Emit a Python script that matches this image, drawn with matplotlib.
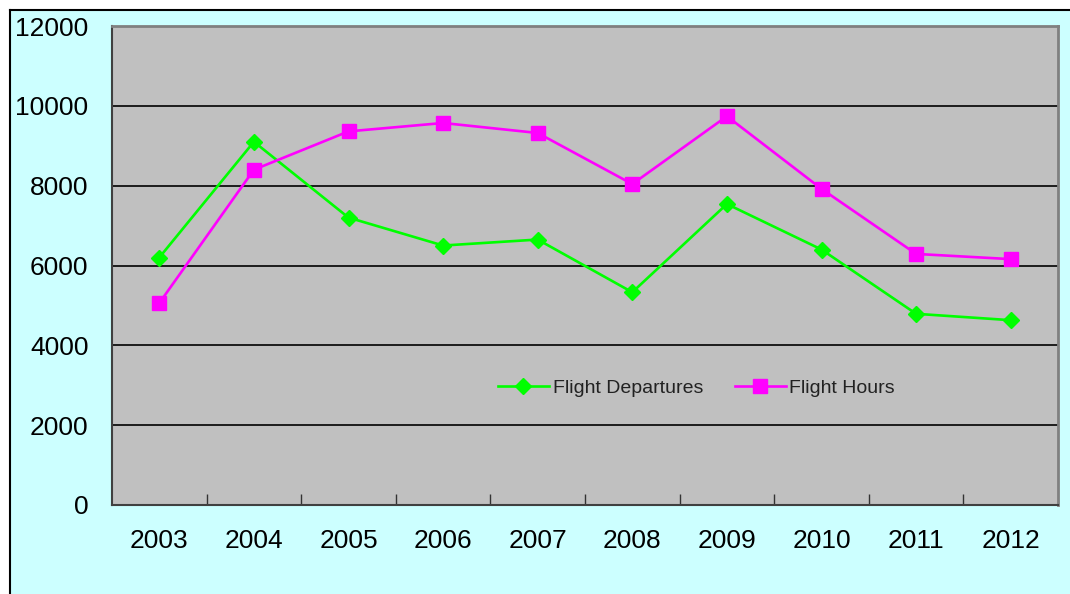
import matplotlib
matplotlib.use('Agg')
import matplotlib.pyplot as plt
from matplotlib.patches import Rectangle
from matplotlib.lines import Line2D

# Data
years = ['2003', '2004', '2005', '2006', '2007', '2008', '2009', '2010', '2011', '2012']
departures = [6200, 9100, 7200, 6500, 6650, 5330, 7540, 6400, 4790, 4630]
hours = [5060, 8400, 9360, 9570, 9320, 8040, 9740, 7920, 6290, 6160]
y_ticks = [0, 2000, 4000, 6000, 8000, 10000, 12000]

plt.rcParams['font.family'] = ['Liberation Sans', 'DejaVu Sans']

W, H = 1070, 594
fig = plt.figure(figsize=(W / 100, H / 100), dpi=100, facecolor='white')

# Chart background (cyan) with black border on top/left
fig.patches.append(Rectangle((10 / W, 0), 1, 1 - 10 / H, transform=fig.transFigure,
                             facecolor='#CCFFFF', edgecolor='none', zorder=-10))
fig.lines.append(Line2D([10 / W, 1], [1 - 10 / H, 1 - 10 / H], transform=fig.transFigure,
                        color='black', lw=1.5, zorder=-9))
fig.lines.append(Line2D([10 / W, 10 / W], [0, 1 - 10 / H], transform=fig.transFigure,
                        color='black', lw=1.5, zorder=-9))

ax = fig.add_axes([112 / W, (H - 505) / H, (1058 - 112) / W, (505 - 26) / H])
ax.set_facecolor('#C0C0C0')

x = list(range(len(years)))
ax.plot(x, departures, color='#00FF00', lw=1.9, marker='D', markersize=8,
        label='Flight Departures', zorder=3)
ax.plot(x, hours, color='#FF00FF', lw=1.9, marker='s', markersize=10,
        label='Flight Hours', zorder=3)

ax.set_xlim(-0.5, len(years) - 0.5)
ax.set_ylim(0, 12000)
ax.set_yticks(y_ticks)
ax.set_yticklabels([str(v) for v in y_ticks], fontsize=19)
ax.set_xticks(x)
ax.set_xticklabels(years, fontsize=19)
ax.set_xticks([i + 0.5 for i in range(len(years) - 1)], minor=True)

ax.tick_params(axis='y', which='major', length=0, pad=17)
ax.tick_params(axis='x', which='major', length=0, pad=17)
ax.tick_params(axis='x', which='minor', direction='in', length=8, width=1, color='#333333')

ax.grid(True, axis='y', color='black', lw=1.2)
ax.set_axisbelow(True)

for s in ['left', 'bottom']:
    ax.spines[s].set_color('#404040')
    ax.spines[s].set_linewidth(1.5)
for s in ['top', 'right']:
    ax.spines[s].set_color('#808080')
    ax.spines[s].set_linewidth(2)

leg = ax.legend(loc='center', bbox_to_anchor=(0.618, 0.244), ncol=2, frameon=False,
                fontsize=14, handlelength=2.6, handletextpad=0.2, columnspacing=1.65)
for t in leg.get_texts():
    t.set_color('#222222')

fig.savefig('out.png', dpi=100, facecolor='white')
